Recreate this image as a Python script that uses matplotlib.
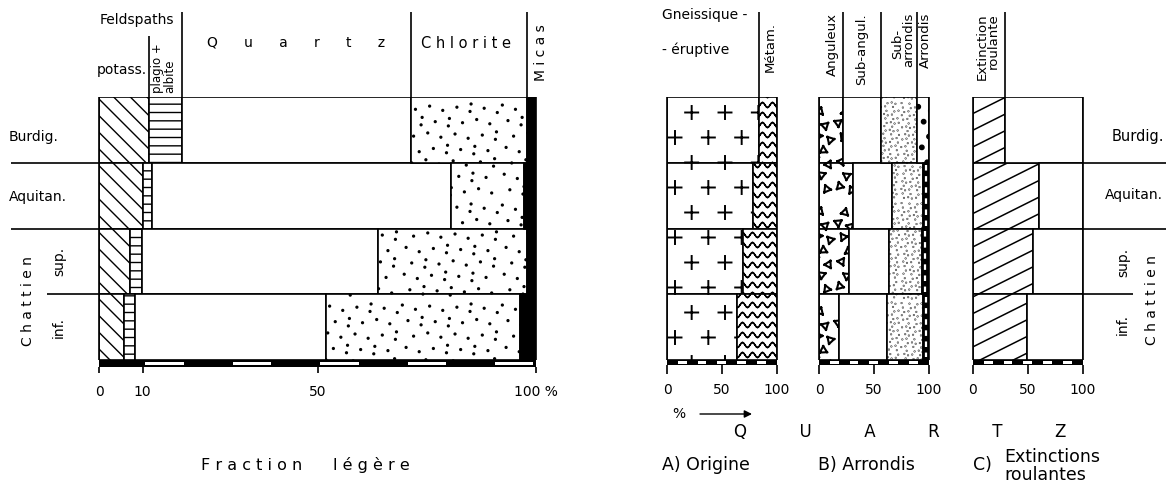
import numpy as np
import matplotlib
matplotlib.use("Agg")
import matplotlib.pyplot as plt
import matplotlib.hatch as mhatch
from matplotlib.path import Path

# ---------------- data (percent) ----------------
rows = ["Burdig.", "Aquitan.", "Chattien sup.", "Chattien inf."]
ticks_main = [0, 10, 50, 100]
tick_labels_main = ["0", "10", "50", "100 %"]
ticks_small = [0, 50, 100]

# Fraction légère
potass = [11.5, 10.1, 7.2, 5.7]
plagio = [7.4, 2.1, 2.6, 2.5]
quartz = [52.6, 68.3, 54.0, 43.7]
chlorite = [26.4, 16.8, 34.1, 44.5]
micas = [2.1, 2.7, 2.1, 3.6]

# A) Origine du quartz
gneiss_erupt = [84.0, 78.6, 69.0, 64.0]
metam = [16.0, 21.4, 31.0, 36.0]

# B) Arrondis
anguleux = [22.3, 31.4, 27.7, 18.6]
sub_angul = [34.4, 35.1, 36.6, 43.3]
sub_arrondis = [32.6, 28.9, 29.7, 33.5]
arrondis = [10.7, 4.6, 6.0, 4.6]
arrondis_style = ["dots", "chain", "chain", "chain"]

# C) Extinctions roulantes
ext_roul = [29.2, 60.6, 54.5, 49.2]
ext_rest = [70.8, 39.4, 45.5, 50.8]

plt.rcParams["font.family"] = ["DejaVu Sans"]
plt.rcParams["hatch.linewidth"] = 1.0

# ---------------- texture hatches ----------------
MV, LN = Path.MOVETO, Path.LINETO


def _segs(segs):
    v = np.asarray(segs, float).reshape(-1, 2)
    return v, np.tile([MV, LN], len(v) // 2).astype(Path.code_type)


def _dots(pts, r):
    circ = Path.unit_circle()
    v = (circ.vertices[None, :, :] * r + pts[:, None, :]).reshape(-1, 2)
    return v, np.tile(circ.codes, len(pts)).astype(Path.code_type)


def _r2(n, seed):
    g = 1.32471795724474602596
    i = np.arange(1, n + 1)
    return np.column_stack(((seed + i / g) % 1, (seed + i / g ** 2) % 1))


def _geom(ch):
    if ch == "-":
        ys = (np.arange(12) + 0.5) / 12
        return _segs([[(0, y), (1, y)] for y in ys])
    if ch == "\\":
        return _segs([[(0, k / 6), (1, k / 6 - 1)] for k in range(0, 13)])
    if ch == "/":
        return _segs([[(0, k / 6), (1, k / 6 + 0.5)] for k in range(-4, 7)])
    if ch == "|":
        x = np.linspace(0, 1, 161)
        s = []
        for k in range(10):
            y = (k + 0.5) / 10 + 0.025 * np.sin(2 * np.pi * 10 * x)
            for j in range(len(x) - 1):
                s.append([(x[j], y[j]), (x[j + 1], y[j + 1])])
        return _segs(s)
    if ch == "O":
        s = []
        a = 0.065
        for j in range(4):
            for i in range(3):
                cx = (i + 0.25) / 3 + (j % 2) / 6
                cy = (j + 0.5) / 4
                s.append([(cx - a, cy), (cx + a, cy)])
                s.append([(cx, cy - a), (cx, cy + a)])
        return _segs(s)
    if ch == "*":
        p = 0.06 + 0.88 * _r2(36, 0.1)
        s = []
        for n, (cx, cy) in enumerate(p):
            th = n * 2.39996 + np.array([0, 2 * np.pi / 3, 4 * np.pi / 3, 0])
            vx = cx + 0.042 * np.cos(th)
            vy = cy + 0.042 * np.sin(th)
            for q in range(3):
                s.append([(vx[q], vy[q]), (vx[q + 1], vy[q + 1])])
        return _segs(s)
    if ch == "o":
        return _dots(0.02 + 0.96 * _r2(62, 0.7), 0.007)
    if ch == ".":
        return _dots(0.01 + 0.98 * _r2(430, 0.2), 0.002)
    if ch == "X":
        return _dots(0.04 + 0.92 * _r2(30, 0.4), 0.022)
    return None


class _Texture(mhatch.HatchPatternBase):
    def __init__(self, hatch, density):
        parts = [_geom(c) for c in sorted(set(hatch or ""))]
        parts = [p for p in parts if p is not None]
        if parts:
            self.v = np.concatenate([p[0] for p in parts])
            self.c = np.concatenate([p[1] for p in parts])
        else:
            self.v = np.empty((0, 2))
            self.c = np.empty(0, dtype=Path.code_type)
        self.num_vertices = len(self.v)

    def set_vertices_and_codes(self, vertices, codes):
        vertices[:] = self.v
        codes[:] = self.c


mhatch._hatch_types[:] = [_Texture]

# ---------------- figure / axes ----------------
W, H = 1166, 485
TOP, BOT = 98, 361
ROWPX = (BOT - TOP) / 4.0
fig = plt.figure(figsize=(W / 100, H / 100), dpi=100)
LW = 1.2


def add_ax(x0, x1):
    ax = fig.add_axes([x0 / W, 1 - BOT / H, (x1 - x0) / W, (BOT - TOP) / H])
    ax.set_xlim(0, 100)
    ax.set_ylim(4, 0)
    ax.axis("off")
    return ax


axL = add_ax(99, 536)
axA = add_ax(667, 776.5)
axB = add_ax(819, 928.5)
axC = add_ax(973, 1082.5)
ov = fig.add_axes([0, 0, 1, 1])
ov.set_xlim(0, W)
ov.set_ylim(H, 0)
ov.axis("off")

ypos = np.arange(len(rows)) + 0.5


def stack(ax, series, styles):
    left = np.zeros(len(rows))
    out = []
    for vals, st in zip(series, styles):
        bars = ax.barh(ypos, vals, left=left, height=1.0,
                       facecolor=st.get("fc", "white"), edgecolor="black",
                       linewidth=LW, hatch=st.get("hatch"))
        if "hlw" in st:
            for p in bars:
                try:
                    p.set_hatch_linewidth(st["hlw"])
                except AttributeError:
                    pass
        out.append((bars, left.copy(), np.asarray(vals)))
        left = left + np.asarray(vals)
    return out


def scale_bar(ax, h, white_starts, white_w, ticks, tick_len):
    ax.barh(4 + h / 2, 100, left=0, height=h, color="black", clip_on=False)
    ax.barh(4 + h / 2, white_w, left=white_starts, height=h * 0.45,
            color="white", clip_on=False)
    ax.vlines(ticks, 4 + h, 4 + h + tick_len, color="black", lw=LW,
              clip_on=False)
    ax.vlines([0, 100], 0, 4, color="black", lw=LW, clip_on=False)


# ---- left: Fraction légère ----
stack(axL, [potass, plagio, quartz, chlorite, micas],
      [{"hatch": "\\"}, {"hatch": "-"}, {}, {"hatch": "o", "hlw": 1.3},
       {"fc": "black"}])
scale_bar(axL, 7 / ROWPX, np.arange(10, 100, 20) + 0.6, 8.8, ticks_main,
          6 / ROWPX)
for t, lab in zip(ticks_main, tick_labels_main):
    axL.text(t, 4 + 31 / ROWPX, lab, ha="center", va="center", fontsize=10,
             clip_on=False)
# header column lines (Burdig. boundaries)
b = np.cumsum([potass[0], plagio[0], quartz[0], chlorite[0]])
axL.vlines(b[0], -61 / ROWPX, 0, color="black", lw=LW, clip_on=False)
axL.vlines(b[1:], -85 / ROWPX, 0, color="black", lw=LW, clip_on=False)
# row separators to the left
axL.hlines([1, 2], -20.1, 0, color="black", lw=LW, clip_on=False)
axL.hlines([3], -11.9, 0, color="black", lw=LW, clip_on=False)

# ---- A) Origine ----
stack(axA, [gneiss_erupt, metam], [{"hatch": "O", "hlw": 1.4},
                                    {"hatch": "|", "hlw": 1.0}])
scale_bar(axA, 5 / ROWPX, np.arange(10, 100, 18), 8, ticks_small, 9 / ROWPX)
axA.vlines(gneiss_erupt[0], -85 / ROWPX, 0, color="black", lw=LW, clip_on=False)

# ---- B) Arrondis ----
resB = stack(axB, [anguleux, sub_angul, sub_arrondis, arrondis],
             [{"hatch": "*", "hlw": 1.5}, {}, {"hatch": ".", "hlw": 1.2},
              {}])
bars_arr, left_arr, w_arr = resB[-1]
for i, p in enumerate(bars_arr):
    if arrondis_style[i] == "dots":
        p.set_hatch("X")
    else:
        p.set_facecolor("black")
        axB.vlines(left_arr[i] + w_arr[i] / 2, i + 0.04, i + 0.96,
                   color="white", lw=1.6, linestyles=(0, (2.5, 2.5)))
scale_bar(axB, 5 / ROWPX, np.arange(10, 100, 18), 8, ticks_small, 9 / ROWPX)
bB = np.cumsum([anguleux[0], sub_angul[0], sub_arrondis[0]])
axB.vlines(bB, -85 / ROWPX, 0, color="black", lw=LW, clip_on=False)

# ---- C) Extinctions roulantes ----
stack(axC, [ext_roul, ext_rest], [{"hatch": "/", "hlw": 1.1}, {}])
scale_bar(axC, 5 / ROWPX, np.arange(10, 100, 18), 8, ticks_small, 9 / ROWPX)
axC.vlines(ext_roul[0], -85 / ROWPX, 0, color="black", lw=LW, clip_on=False)
axC.hlines([1, 2], 100, 190, color="black", lw=LW, clip_on=False)
axC.hlines([3], 100, 146, color="black", lw=LW, clip_on=False)

for ax in (axA, axB, axC):
    for t in ticks_small:
        ax.text(t, 4 + 29 / ROWPX, str(t), ha="center", va="center",
                fontsize=10, clip_on=False)

# ---------------- texts (pixel coordinates) ----------------
def T(x, y, s, **kw):
    kw.setdefault("fontsize", 10)
    kw.setdefault("va", "center")
    ov.text(x, y, s, **kw)


# left headers
T(174, 20, "Feldspaths", ha="right")
T(147, 70, "potass.", ha="right")
T(158, 93, "plagio +", rotation=90, ha="center", va="bottom", fontsize=8.5)
T(170, 93, "albite", rotation=90, ha="center", va="bottom", fontsize=8.5)
T(296, 43, "Q      u      a      r      t      z", ha="center")
T(466, 43, "C h l o r i t e", ha="center", fontsize=10.5)
T(541, 53, "M i c a s", rotation=90, ha="center")
# left row labels
T(9, 137, "Burdig.", ha="left")
T(9, 197, "Aquitan.", ha="left")
T(28, 301, "C h a t t i e n", rotation=90, ha="center")
T(59, 261, "sup.", rotation=90, ha="center")
T(59, 328, "inf.", rotation=90, ha="center")
T(305, 465, "F r a c t i o n      l é g è r e", ha="center", fontsize=11.5)

# right headers
T(662, 15, "Gneissique -", ha="left")
T(662, 50, "- éruptive", ha="left")
T(770, 47, "Métam.", rotation=90, ha="center", fontsize=9.5)
T(832, 13, "Anguleux", rotation=90, ha="center", va="top", fontsize=9.5)
T(862, 13, "Sub-angul.", rotation=90, ha="center", va="top", fontsize=9.5)
T(898, 44, "Sub-", rotation=90, ha="center", fontsize=9.5)
T(909, 13, "arrondis", rotation=90, ha="center", va="top", fontsize=9.5)
T(925, 13, "Arrondis", rotation=90, ha="center", va="top", fontsize=9.5)
T(982, 13, "Extinction", rotation=90, ha="center", va="top", fontsize=9.5)
T(993, 13, "roulante", rotation=90, ha="center", va="top", fontsize=9.5)
# right row labels
T(1112, 137, "Burdig.", ha="left", fontsize=10.5)
T(1105, 195, "Aquitan.", ha="left")
T(1123, 262, "sup.", rotation=90, ha="center")
T(1123, 325, "inf.", rotation=90, ha="center")
T(1152, 300, "C h a t t i e n", rotation=90, ha="center")
# bottom right
T(679, 414, "%", ha="center", fontsize=10)
ov.annotate("", xy=(752, 415), xytext=(700, 415),
            arrowprops=dict(arrowstyle="-|>", lw=1.0, color="black",
                            mutation_scale=11, shrinkA=0, shrinkB=0))
T(900, 432, "Q          U          A          R          T          Z",
  ha="center", fontsize=12)
T(662, 465, "A) Origine", ha="left", fontsize=12.5)
T(818, 465, "B) Arrondis", ha="left", fontsize=12.5)
T(973, 465, "C)", ha="left", fontsize=12.5)
T(1004, 466, "Extinctions\nroulantes", ha="left", fontsize=12.5,
  linespacing=0.95)

fig.savefig("out.png", dpi=100)
